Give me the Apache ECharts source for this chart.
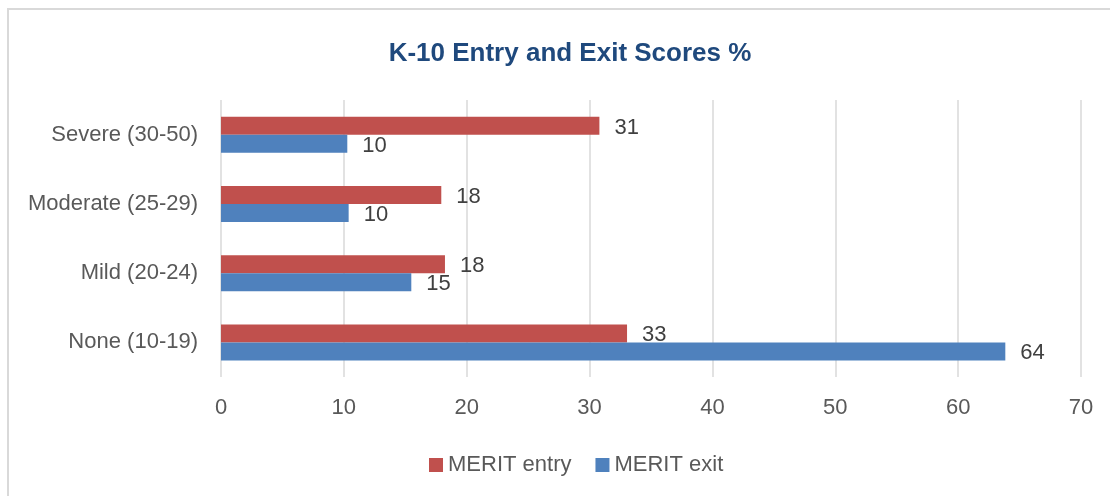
<!DOCTYPE html>
<html>
<head>
    <meta charset="utf-8">
    <title>K-10 Entry and Exit Scores</title>
    <script src="https://cdn.jsdelivr.net/npm/echarts@6/dist/echarts.min.js"></script>
    <style>
        html, body { margin: 0; padding: 0; background: #fff; }
        #chart { width: 1110px; height: 496px; }
    </style>
</head>
<body>
<div id="chart"></div>
<script type="text/javascript">
    // categories bottom -> top
    var categories = ['None (10-19)', 'Mild (20-24)', 'Moderate (25-29)', 'Severe (30-50)'];
    var entryValues = [33.05, 18.23, 17.93, 30.8];
    var exitValues = [63.84, 15.49, 10.39, 10.28];
    var xTicks = [0, 10, 20, 30, 40, 50, 60, 70];

    var font = "'Liberation Sans', Arial, sans-serif";
    var myChart = echarts.init(document.getElementById('chart'));

    var labelStyle = {
        show: true,
        position: 'right',
        distance: 15,
        offset: [0, 2],
        fontFamily: font,
        fontSize: 22,
        color: '#404040',
        formatter: function (p) { return Math.round(p.value); }
    };

    option = {
        animation: false,
        title: {
            text: 'K-10 Entry and Exit Scores %',
            left: 565,
            top: 36,
            textAlign: 'center',
            textStyle: { fontFamily: font, fontSize: 26, fontWeight: 'bold', color: '#1F497D' }
        },
        graphic: [{
            type: 'rect',
            shape: { x: 8, y: 9, width: 1120, height: 500 },
            style: { fill: 'none', stroke: '#D9D9D9', lineWidth: 2 },
            silent: true
        }],
        legend: {
            data: ['MERIT entry', 'MERIT exit'],
            left: 424,
            top: 449,
            icon: 'rect',
            itemWidth: 14,
            itemHeight: 14,
            itemGap: 24,
            textStyle: { fontFamily: font, fontSize: 22, color: '#595959' }
        },
        grid: { left: 221, right: 29, top: 100, bottom: 119, containLabel: false },
        xAxis: {
            type: 'value',
            min: xTicks[0],
            max: xTicks[xTicks.length - 1],
            interval: 10,
            axisLine: { show: false },
            axisTick: { show: false },
            axisLabel: { margin: 20, fontFamily: font, fontSize: 22, color: '#595959' },
            splitLine: { lineStyle: { color: '#D9D9D9', width: 1.5 } }
        },
        yAxis: {
            type: 'category',
            data: categories,
            axisLine: { show: false },
            axisTick: { show: false },
            axisLabel: { margin: 23, fontFamily: font, fontSize: 22, color: '#595959' }
        },
        series: [
            {
                name: 'MERIT entry',
                type: 'bar',
                data: entryValues,
                barWidth: 18,
                barGap: '0%',
                itemStyle: { color: '#C0504D' },
                label: labelStyle
            },
            {
                name: 'MERIT exit',
                type: 'bar',
                data: exitValues,
                barWidth: 18,
                barGap: '0%',
                itemStyle: { color: '#4F81BD' },
                label: labelStyle
            }
        ]
    };

    myChart.setOption(option);
</script>
</body>
</html>
